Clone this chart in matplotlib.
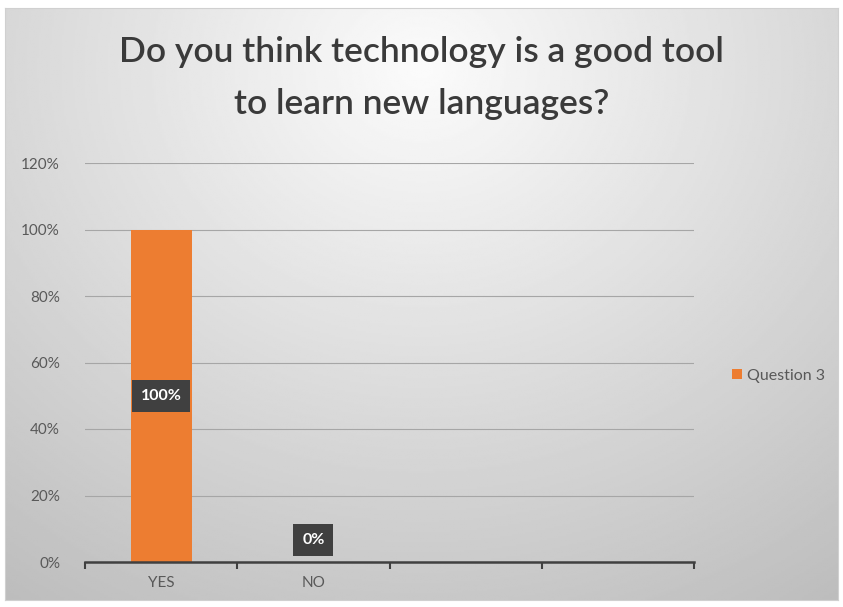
import numpy as np
import matplotlib.pyplot as plt

categories = ["YES", "NO", "", ""]
values = [100, 0, None, None]
series_name = "Question 3"
title = "Do you think technology is a good tool\nto learn new languages?"
yticks = [0, 20, 40, 60, 80, 100, 120]

plt.rcParams['font.family'] = ['Lato', 'DejaVu Sans']

W, H = 843, 607
fig = plt.figure(figsize=(W / 100, H / 100), dpi=100)

# chart area with radial grey gradient
bg = fig.add_axes([5 / W, 1 - 600 / H, 833 / W, 592 / H], zorder=0)
yy, xx = np.mgrid[0:1:300j, 0:1:400j]
r = np.sqrt(((xx - 0.5) * 1.0) ** 2 + ((yy - 0.1) * 0.8) ** 2)
shade = np.clip(0.985 - 0.28 * r, 0, 1)
bg.imshow(shade, cmap="gray", vmin=0, vmax=1, aspect="auto",
          extent=[0, 1, 0, 1], origin="upper")
bg.set_xlim(0, 1)
bg.set_ylim(0, 1)
bg.set_xticks([])
bg.set_yticks([])
for s in bg.spines.values():
    s.set_color("#d0d0d0")
    s.set_linewidth(0.8)

ax = fig.add_axes([85 / W, 1 - 562 / H, (694 - 85) / W, (562 - 163) / H], zorder=1)
ax.patch.set_alpha(0)

x = np.arange(len(categories))
mask = np.array([v is not None for v in values])
bar_vals = np.array([v if v is not None else 0 for v in values])
ax.bar(x[mask], bar_vals[mask], width=0.4, color="#ed7d31",
       label=series_name, zorder=3)

for xi, v in zip(x[mask], bar_vals[mask]):
    off = 0 if v > 0 else 22
    ax.annotate(f"{v:.0f}%", (xi, v / 2), xytext=(0, off), textcoords="offset pixels",
                ha="center", va="center", color="white", fontsize=11.5,
                fontweight="bold", zorder=5,
                bbox=dict(boxstyle="square,pad=0.55", fc="#404040", ec="none"))

ax.set_xlim(-0.5, len(categories) - 0.5)
ax.set_ylim(0, 120)
ax.set_yticks(yticks)
ax.set_yticklabels([f"{t}%" for t in yticks], color="#595959", fontsize=11)
ax.yaxis.grid(True, color="#a6a6a6", linewidth=0.8, zorder=0)
ax.tick_params(axis="y", length=0, pad=18)

ax.set_xticks(x)
ax.set_xticklabels(categories, color="#595959", fontsize=11)
ax.set_xticks(np.arange(len(categories) + 1) - 0.5, minor=True)
ax.tick_params(axis="x", which="major", length=0, pad=10)
ax.tick_params(axis="x", which="minor", length=5, width=1.5, color="#404040", direction="out")

for s in ["top", "right", "left"]:
    ax.spines[s].set_visible(False)
ax.spines["bottom"].set_color("#404040")
ax.spines["bottom"].set_linewidth(1.8)
ax.spines["bottom"].set_zorder(4)

fig.text(0.5, 1 - 78 / H, title, ha="center", va="center", fontsize=25.5,
         fontweight="semibold", color="#3a3a3a", linespacing=1.75)

fig.legend(loc="center left", bbox_to_anchor=(718 / W, 1 - 376 / H),
           frameon=False, fontsize=11.5, handlelength=0.6, handleheight=0.6,
           handletextpad=0.3, labelcolor="#595959")

fig.savefig("out.png", dpi=100)
